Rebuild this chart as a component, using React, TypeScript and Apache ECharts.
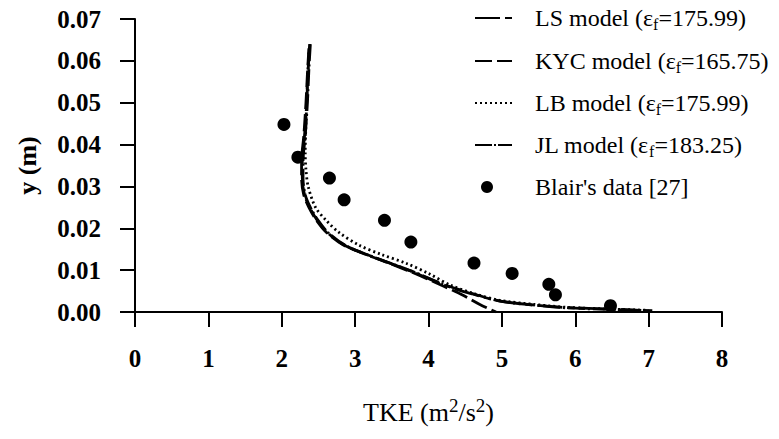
import React, { useEffect, useRef } from "react";
import * as echarts from "echarts";

// TKE (m^2/s^2) vs y (m)
const lsModel: [number, number][] = [
  [2.38, 0.064], [2.36, 0.058], [2.34, 0.05], [2.31, 0.042], [2.28, 0.036], [2.28, 0.032],
  [2.31, 0.028], [2.38, 0.025], [2.48, 0.022], [2.62, 0.019], [2.85, 0.016], [3.15, 0.0138],
  [3.5, 0.0115], [3.8, 0.0095], [4.25, 0.0062], [4.6, 0.0043], [4.95, 0.0027], [5.4, 0.0017],
  [5.85, 0.0011], [6.5, 0.0007], [6.9, 0.0004],
];
const kycModel: [number, number][] = [
  [2.37, 0.063], [2.35, 0.057], [2.33, 0.05], [2.3, 0.042], [2.27, 0.036], [2.27, 0.032],
  [2.3, 0.028], [2.37, 0.025], [2.47, 0.022], [2.61, 0.019], [2.84, 0.016], [3.14, 0.0138],
  [3.5, 0.0114], [3.8, 0.0093], [4.2, 0.0062], [4.45, 0.0042], [4.7, 0.0018], [4.92, 0.0],
];
const lbModel: [number, number][] = [
  [2.37, 0.062], [2.35, 0.055], [2.33, 0.045], [2.32, 0.038], [2.33, 0.034], [2.36, 0.03],
  [2.46, 0.025], [2.6, 0.022], [2.78, 0.019], [3.05, 0.016], [3.35, 0.0138], [3.7, 0.0116],
  [4.0, 0.0092], [4.3, 0.0064], [4.62, 0.0044], [4.97, 0.0028], [5.45, 0.0018], [5.9, 0.0011],
  [6.5, 0.0007], [7.0, 0.0004],
];
const jlModel: [number, number][] = [
  [2.39, 0.064], [2.37, 0.058], [2.35, 0.05], [2.32, 0.042], [2.29, 0.036], [2.29, 0.032],
  [2.32, 0.028], [2.39, 0.025], [2.49, 0.022], [2.63, 0.019], [2.86, 0.016], [3.16, 0.0137],
  [3.52, 0.0114], [3.82, 0.0094], [4.27, 0.0062], [4.62, 0.0043], [4.97, 0.0026], [5.42, 0.0017],
  [5.87, 0.001], [6.5, 0.0006], [7.05, 0.0003],
];
const blairData: [number, number][] = [
  [2.03, 0.0448], [2.22, 0.037], [2.65, 0.032], [2.85, 0.0268], [3.4, 0.0219], [3.76, 0.0167],
  [4.62, 0.0117], [5.14, 0.0092], [5.64, 0.0066], [5.73, 0.0041], [6.48, 0.0015],
];

const seriesNames = ["LS model", "KYC model", "LB model", "JL model", "Blair's data [27]"];
const epsValues = ["175.99", "165.75", "175.99", "183.25"];
const dashPatterns: number[][] = [[25, 5, 7, 5], [17, 5], [2, 3], [17, 3, 2, 3]];
const legendDash: number[][] = [[25, 5, 7, 100], [17, 5, 15, 100], [2, 3], [17, 2, 2, 2, 14, 100]];

const FONT = "Liberation Serif";

export default function App() {
  const ref = useRef<HTMLDivElement>(null);
  useEffect(() => {
    if (!ref.current) return;
    const chart = echarts.init(ref.current, null, { renderer: "svg" });
    const rowY = [18, 61, 103, 145, 187];
    const legendGraphics: any[] = [];
    seriesNames.forEach((n, i) => {
      if (i < 4) {
        legendGraphics.push({
          type: "line",
          shape: { x1: 475, y1: rowY[i], x2: 512, y2: rowY[i] },
          style: { stroke: "#000", lineWidth: 2, lineDash: legendDash[i] },
        });
      } else {
        legendGraphics.push({
          type: "circle",
          shape: { cx: 487, cy: rowY[i], r: 6 },
          style: { fill: "#000" },
        });
      }
      legendGraphics.push({
        type: "text",
        x: 535,
        y: rowY[i],
        style: {
          text: i < 4 ? `{a|${n} (ε}{s|f}{a|=${epsValues[i]})}` : `{a|${n}}`,
          verticalAlign: "middle",
          align: "left",
          fontFamily: FONT,
          fontSize: 24,
          fill: "#000",
          rich: {
            a: { fontFamily: FONT, fontSize: 24, fill: "#000", lineHeight: 28 },
            s: { fontFamily: FONT, fontSize: 16, fill: "#000", padding: [13, 0, 0, 0] },
          },
        },
      });
    });
    const lineBase = { type: "line" as const, showSymbol: false, symbol: "none", smooth: 0.3 };
    chart.setOption({
      animation: false,
      backgroundColor: "#fff",
      textStyle: { fontFamily: FONT },
      grid: { left: 135, right: 57, top: 19, bottom: 127 },
      graphic: legendGraphics,
      xAxis: {
        type: "value",
        min: 0,
        max: 8,
        interval: 1,
        name: "TKE (m{sup|2}/s{sup|2})",
        nameLocation: "middle",
        nameGap: 84,
        nameTextStyle: {
          fontFamily: FONT, fontSize: 26, color: "#000",
          rich: { sup: { fontFamily: FONT, fontSize: 19, color: "#000", padding: [0, 0, 14, 0] } },
        },
        splitLine: { show: false },
        axisLine: { onZero: false, lineStyle: { color: "#000", width: 2 } },
        axisTick: { inside: false, length: 15, lineStyle: { color: "#000", width: 2 } },
        axisLabel: { margin: 34, fontFamily: FONT, fontSize: 25, fontWeight: "bold", color: "#000" },
      },
      yAxis: {
        type: "value",
        min: 0,
        max: 0.07,
        interval: 0.01,
        name: "y (m)",
        nameLocation: "middle",
        nameGap: 95,
        nameRotate: 90,
        nameTextStyle: { fontFamily: FONT, fontSize: 26, fontWeight: "bold", color: "#000" },
        splitLine: { show: false },
        axisLine: { onZero: false, lineStyle: { color: "#000", width: 2 } },
        axisTick: { inside: false, length: 15, lineStyle: { color: "#000", width: 2 } },
        axisLabel: {
          margin: 34, fontFamily: FONT, fontSize: 25, fontWeight: "bold", color: "#000",
          formatter: (v: number) => v.toFixed(2),
        },
      },
      series: [
        ...[lsModel, kycModel, lbModel, jlModel].map((d, i) => ({
          ...lineBase,
          name: seriesNames[i],
          data: d,
          z: i === 2 ? 2 : 3,
          lineStyle: { color: "#000", width: 2.8, type: dashPatterns[i] },
          itemStyle: { color: "#000" },
        })),
        { type: "scatter", name: seriesNames[4], data: blairData, symbol: "circle", symbolSize: 13,
          itemStyle: { color: "#000", opacity: 1 }, z: 4 },
      ],
    });
    return () => chart.dispose();
  }, []);
  return <div ref={ref} style={{ width: 779, height: 439, position: "absolute", left: 0, top: 0 }} />;
}
